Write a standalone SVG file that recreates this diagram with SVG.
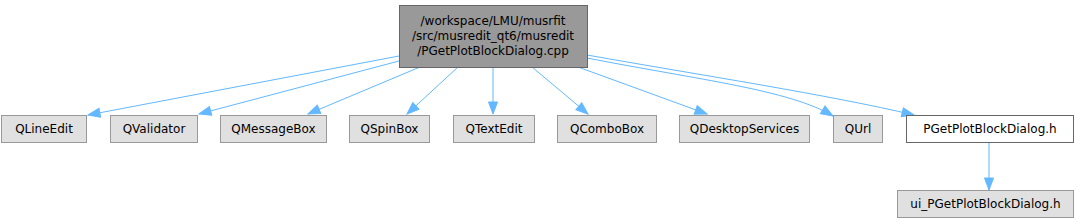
<svg xmlns="http://www.w3.org/2000/svg" width="1079" height="224" viewBox="0 0 1079 224">
<style>
text{font-family:"DejaVu Sans",sans-serif;font-size:12px;fill:#000;text-anchor:middle}
.n rect{fill:#e0e0e0;stroke:#999999;stroke-width:1}
.w rect{fill:#ffffff;stroke:#666666}
.m rect{fill:#999999;stroke:#666666}
.e path{fill:none;stroke:#63b8ff;stroke-width:1;marker-end:url(#a)}
</style>
<defs>
<marker id="a" markerUnits="userSpaceOnUse" markerWidth="14" markerHeight="12" refX="13" refY="6" orient="auto">
<path d="M1,1.5 L13,6 L1,10.5 Z" fill="#63b8ff" stroke="#63b8ff"/>
</marker>
</defs>
<g id="edges" class="e">
<path d="M399,56 L88,115"/>
<path d="M399,61 L199,114"/>
<path d="M420,67 L308,114"/>
<path d="M458,67 L407,114"/>
<path d="M493,67 L493,114"/>
<path d="M532,67 L588,114"/>
<path d="M578,67 L707,114"/>
<path d="M587,58 C700,80 790,90 833,116"/>
<path d="M587,55 C700,75 830,95 914,115"/>
<path d="M989,142 L989,190"/>
</g>
<g id="main" class="m"><rect x="399.5" y="5.5" width="188" height="62"/><text x="493" y="25">/workspace/LMU/musrfit</text><text x="493" y="40">/src/musredit_qt6/musredit</text><text x="493" y="55">/PGetPlotBlockDialog.cpp</text></g>
<g id="QLineEdit" class="n"><rect x="1.5" y="115.5" width="85" height="27"/><text x="44" y="133">QLineEdit</text></g>
<g id="QValidator" class="n"><rect x="110.5" y="115.5" width="87" height="27"/><text x="154" y="133">QValidator</text></g>
<g id="QMessageBox" class="n"><rect x="220.5" y="115.5" width="106" height="27"/><text x="273.5" y="133">QMessageBox</text></g>
<g id="QSpinBox" class="n"><rect x="349.5" y="115.5" width="80" height="27"/><text x="389.5" y="133">QSpinBox</text></g>
<g id="QTextEdit" class="n"><rect x="453.5" y="115.5" width="81" height="27"/><text x="494" y="133">QTextEdit</text></g>
<g id="QComboBox" class="n"><rect x="557.5" y="115.5" width="99" height="27"/><text x="607" y="133">QComboBox</text></g>
<g id="QDesktopServices" class="n"><rect x="679.5" y="115.5" width="130" height="27"/><text x="744.5" y="133">QDesktopServices</text></g>
<g id="QUrl" class="n"><rect x="833.5" y="115.5" width="49" height="27"/><text x="858" y="133">QUrl</text></g>
<g id="PGetPlotBlockDialog_h" class="w"><rect x="906.5" y="115.5" width="167" height="27"/><text x="990" y="133">PGetPlotBlockDialog.h</text></g>
<g id="ui_PGetPlotBlockDialog_h" class="n"><rect x="897.5" y="190.5" width="176" height="27"/><text x="985.5" y="208">ui_PGetPlotBlockDialog.h</text></g>
</svg>
